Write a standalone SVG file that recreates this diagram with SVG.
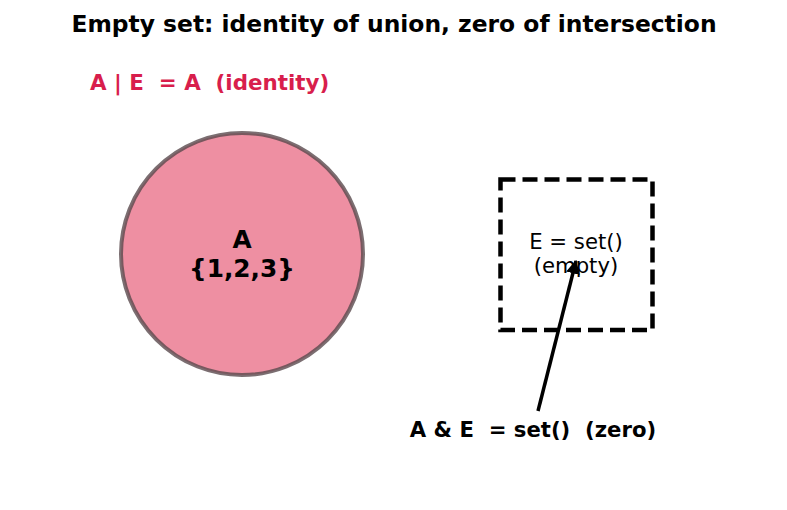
<svg xmlns="http://www.w3.org/2000/svg" width="787" height="510" viewBox="0 0 787 510">
<style>
text{font-family:"DejaVu Sans","Liberation Sans",sans-serif;white-space:pre;}
.b{font-weight:bold;}
</style>
<defs>
<marker id="ah" viewBox="0 0 10 10" refX="9" refY="5" markerWidth="4" markerHeight="4" orient="auto" markerUnits="strokeWidth">
<path d="M0,0 L10,5 L0,10 z" fill="#000"/>
</marker>
</defs>
<rect width="787" height="510" fill="#fff"/>
<text x="394" y="32" text-anchor="middle" class="b" font-size="23.4" xml:space="preserve">Empty set: identity of union, zero of intersection</text>
<text x="90" y="90" class="b" font-size="21.4" fill="#d81e4c" xml:space="preserve">A | E  = A  (identity)</text>
<g id="nodeA">
<circle cx="242" cy="254" r="121" fill="#dc143c" fill-opacity="0.48" stroke="#5a4a4e" stroke-opacity="0.8" stroke-width="4"/>
<text x="242" y="248" text-anchor="middle" class="b" font-size="24.8">A</text>
<text x="242" y="277" text-anchor="middle" class="b" font-size="24.8">{1,2,3}</text>
</g>
<g id="nodeE">
<rect x="500.5" y="179.5" width="152" height="150.5" fill="none" stroke="#000" stroke-width="4.5" stroke-dasharray="15,7"/>
<text x="576" y="249" text-anchor="middle" font-size="21.2">E = set()</text>
<text x="576" y="273" text-anchor="middle" font-size="21.2">(empty)</text>
</g>
<g id="connectors">
<line x1="538" y1="411" x2="576" y2="261" stroke="#000" stroke-width="3.5" marker-end="url(#ah)"/>
</g>
<text x="533" y="437" text-anchor="middle" class="b" font-size="21.2" xml:space="preserve">A &amp; E  = set()  (zero)</text>
</svg>
